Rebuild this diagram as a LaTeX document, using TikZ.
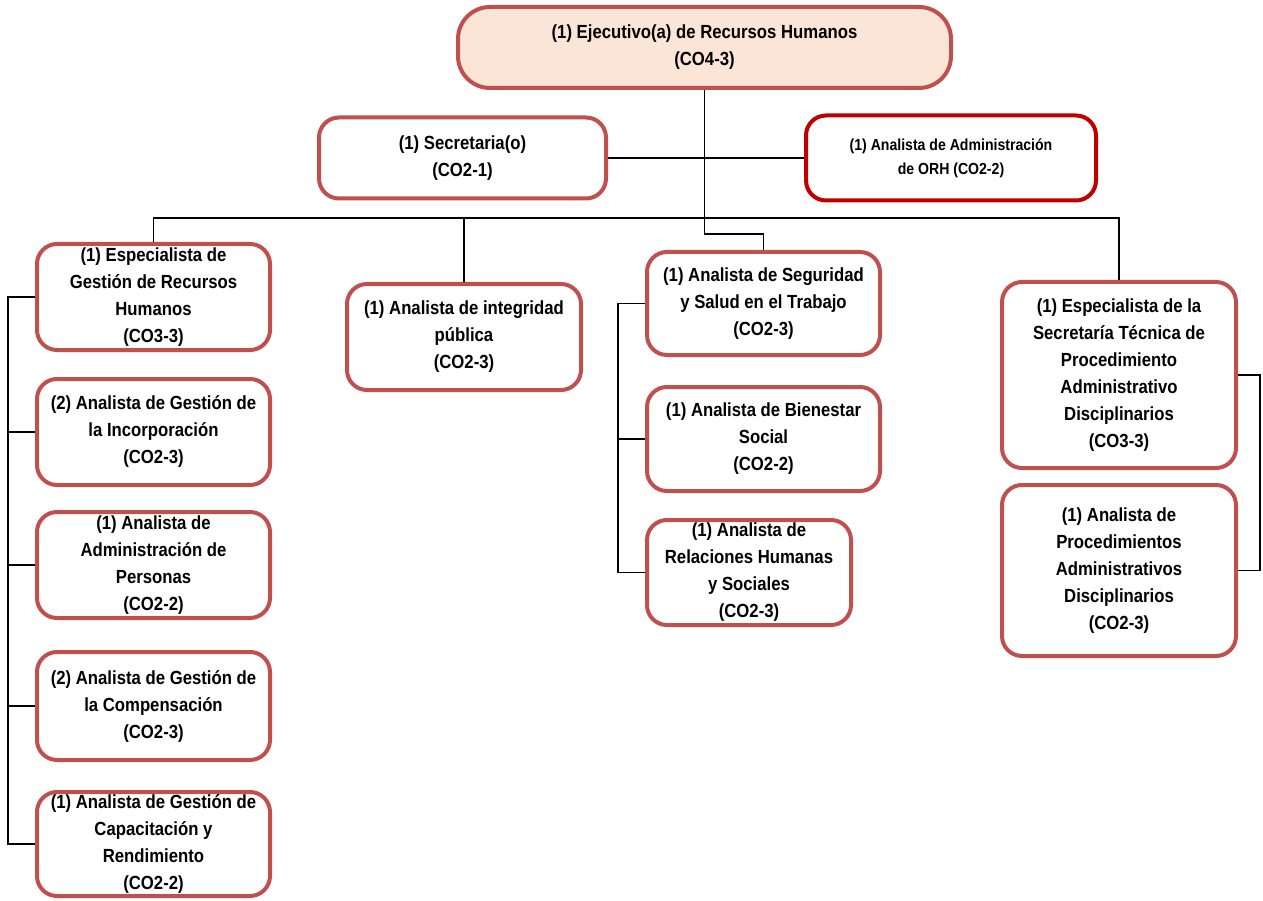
\documentclass[tikz,border=0pt]{standalone}
\usepackage{fontspec}
\setmainfont{Liberation Sans}[FakeStretch=0.88]
\definecolor{boxred}{HTML}{C0504D}
\definecolor{orhred}{HTML}{C00000}
\definecolor{peach}{HTML}{FBE5D6}
\begin{document}
\begin{tikzpicture}[x=1pt,y=-1pt,
  box/.style={draw=boxred, line width=4pt, rounded corners=20pt, fill=white,
    align=center, inner sep=0pt, font=\bfseries\fontsize{19}{27}\selectfont},
  link/.style={draw=black, line width=1.6pt}]
\useasboundingbox (0,0) rectangle (1263,901);

% head of the unit and its direct staff
\node[box, fill=peach, rounded corners=32pt, minimum width=493pt, minimum height=81pt] (top) at (704.5,47.5)
  {(1) Ejecutivo(a) de Recursos Humanos\\(CO4-3)};
\node[box, minimum width=287pt, minimum height=81pt] (sec) at (462.5,158)
  {(1) Secretaria(o)\\(CO2-1)};
\node[box, draw=orhred, minimum width=290pt, minimum height=85pt,
  font=\bfseries\fontsize{16}{24}\selectfont] (orh) at (951,158)
  {(1) Analista de Administración\\de ORH (CO2-2)};

% first column
\node[box, minimum width=233pt, minimum height=106pt] (b1) at (153.5,297)
  {(1) Especialista de\\Gestión de Recursos\\Humanos\\(CO3-3)};
\node[box, minimum width=233pt, minimum height=106pt] (b2) at (153.5,432)
  {(2) Analista de Gestión de\\la Incorporación\\(CO2-3)};
\node[box, minimum width=233pt, minimum height=106pt] (b3) at (153.5,565)
  {(1) Analista de\\Administración de\\Personas\\(CO2-2)};
\node[box, minimum width=233pt, minimum height=108pt] (b4) at (153.5,706)
  {(2) Analista de Gestión de\\la Compensación\\(CO2-3)};
\node[box, minimum width=233pt, minimum height=104pt] (b5) at (153.5,844)
  {(1) Analista de Gestión de\\Capacitación y\\Rendimiento\\(CO2-2)};

% second column
\node[box, minimum width=234pt, minimum height=106pt] (integ) at (464,337)
  {(1) Analista de integridad\\pública\\(CO2-3)};

% third column
\node[box, minimum width=233pt, minimum height=103pt] (sst) at (763.5,303.5)
  {(1) Analista de Seguridad\\y Salud en el Trabajo\\(CO2-3)};
\node[box, minimum width=233pt, minimum height=104pt] (bien) at (763.5,439)
  {(1) Analista de Bienestar\\Social\\(CO2-2)};
\node[box, minimum width=204pt, minimum height=105pt] (rel) at (749,572.5)
  {(1) Analista de\\Relaciones Humanas\\y Sociales\\(CO2-3)};

% fourth column
\node[box, minimum width=234pt, minimum height=186pt] (stpad) at (1119,375)
  {(1) Especialista de la\\Secretaría Técnica de\\Procedimiento\\Administrativo\\Disciplinarios\\(CO3-3)};
\node[box, minimum width=234pt, minimum height=171pt] (pad) at (1119,570.5)
  {(1) Analista de\\Procedimientos\\Administrativos\\Disciplinarios\\(CO2-3)};

% reference levels for the connectors
\coordinate (bus) at (0,218);
\coordinate (jog) at (0,234);
\coordinate (lx1) at (8,0);
\coordinate (lx3) at (618,0);
\coordinate (rx4) at (1260,0);

% connectors
\draw[link] (sec.east) -- (orh.west);
\draw[link] (top.south) -- (top.south |- jog) -| (sst.north);
\draw[link] (b1.north) |- (stpad.north |- bus) -- (stpad.north);
\draw[link] (integ.north) -- (integ.north |- bus);

\draw[link] (b1.west) -- (b1.west -| lx1) -- (b5.west -| lx1) -- (b5.west);
\draw[link] (b2.west) -- (b2.west -| lx1);
\draw[link] (b3.west) -- (b3.west -| lx1);
\draw[link] (b4.west) -- (b4.west -| lx1);

\draw[link] (sst.west) -- (sst.west -| lx3) -- (rel.west -| lx3) -- (rel.west);
\draw[link] (bien.west) -- (bien.west -| lx3);

\draw[link] (stpad.east) -- (stpad.east -| rx4) -- (pad.east -| rx4) -- (pad.east);
\end{tikzpicture}
\end{document}
